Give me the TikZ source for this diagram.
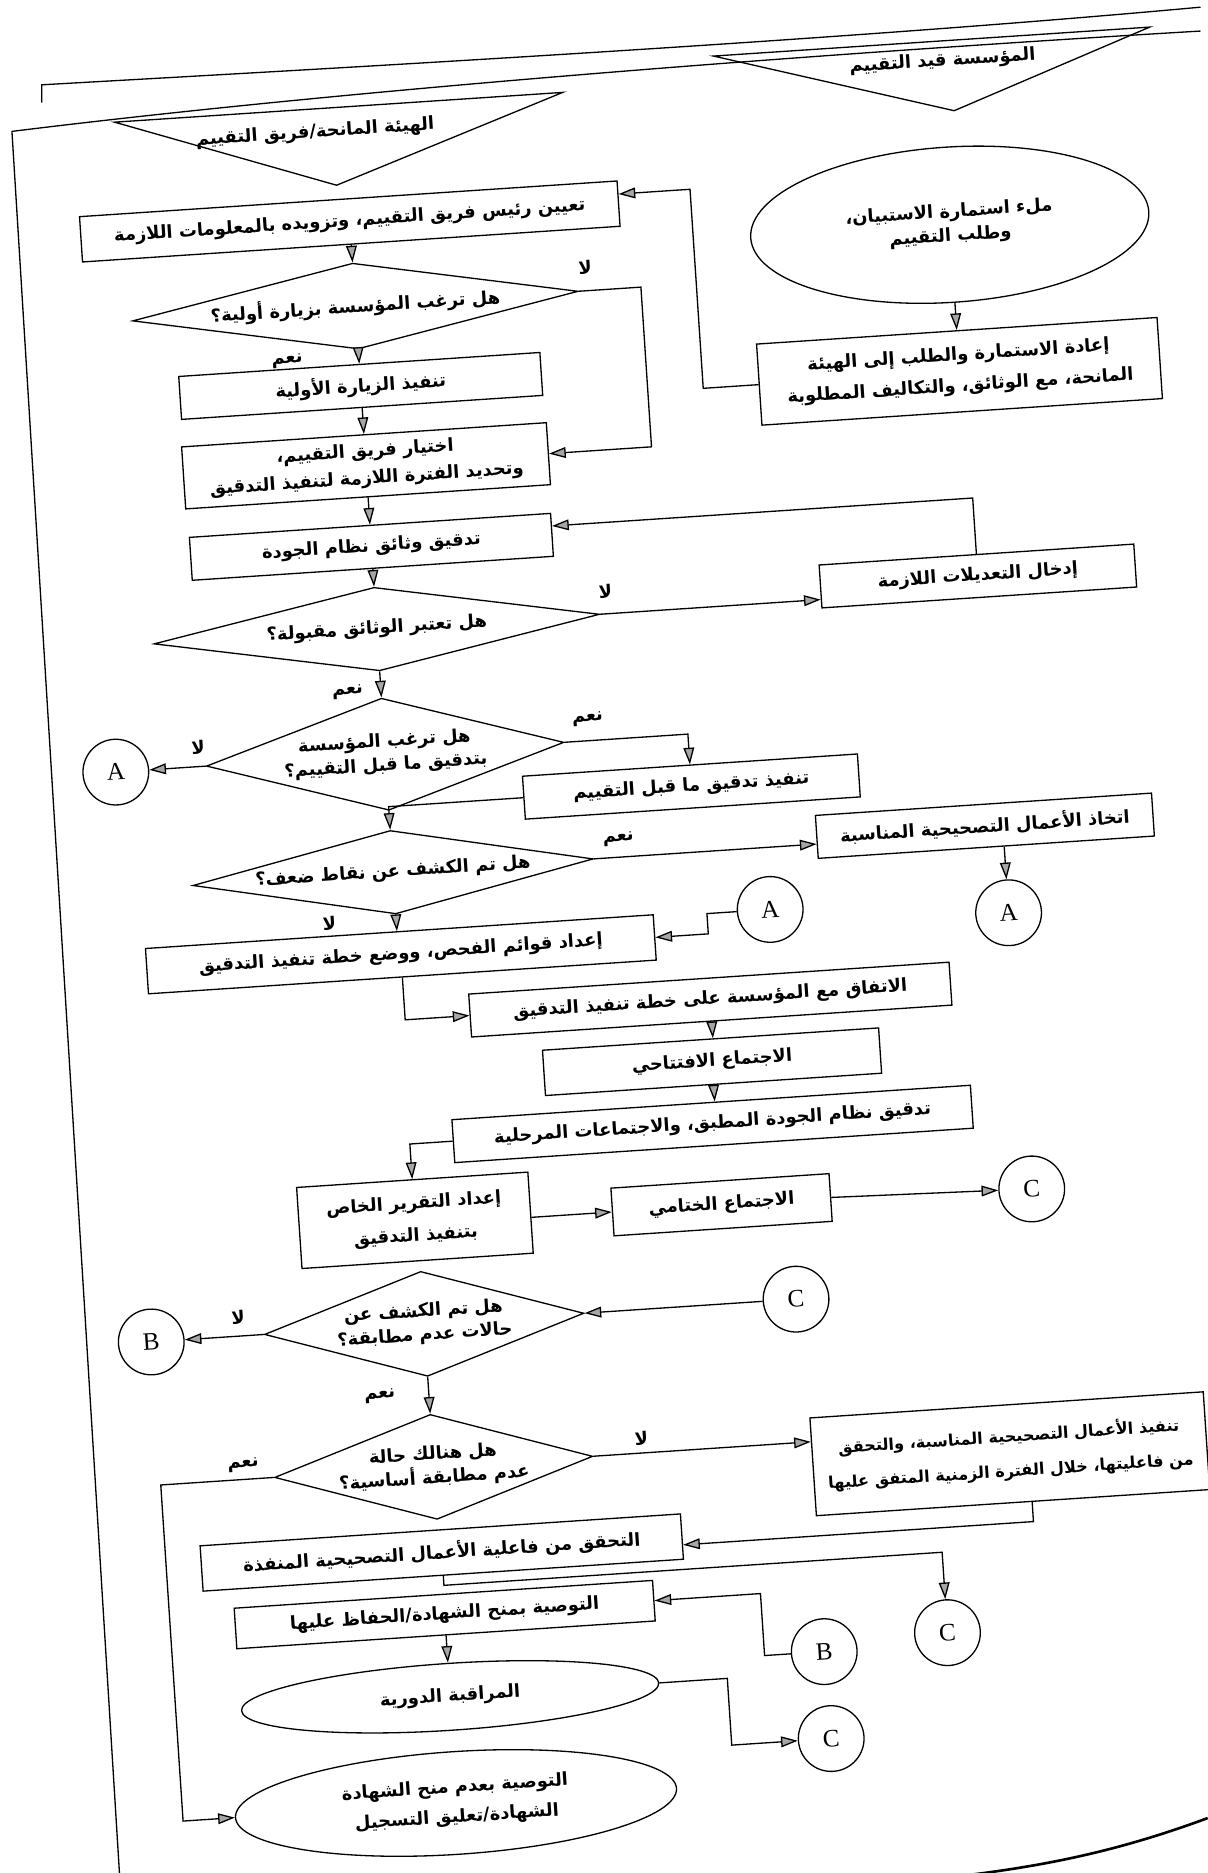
\documentclass[tikz,border=0pt]{standalone}
\usepackage{fontspec}
\usetikzlibrary{shapes.geometric,arrows.meta,calc}
\TeXXeTstate=1
\newfontfamily\arfont[Script=Arabic]{DejaVu Sans}
\newfontfamily\latfont{Liberation Serif}
\newcommand\artx[1]{\beginR #1\endR}
\tikzset{
  every node/.style={font={\arfont\bfseries\fontsize{15}{20}\selectfont}},
  lsk/.style 2 args={font={\arfont\bfseries\fontsize{#1}{#2}\selectfont}},
  wh/.style 2 args={minimum width=#1, minimum height=#2},
  box/.style={draw, rectangle, align=center, inner sep=3pt},
  dia/.style={draw, diamond, align=center, inner sep=0pt},
  ell/.style={draw, ellipse, align=center, inner sep=0pt},
  conn/.style={draw, circle, minimum size=55pt, inner sep=0pt, font={\latfont\fontsize{21}{21}\selectfont}},
  arr/.style={-{Triangle[length=14pt,width=9pt,fill=gray!70]}},
  lab/.style={inner sep=1pt},
}
\begin{document}
\begin{tikzpicture}[x=1pt,y=-1pt,line width=1.1pt]
\useasboundingbox (0,0) rectangle (1011,1568);
% page frame (drawn in image coordinates)
\draw (35,86) -- (35,71) .. controls (300,56) and (700,34) .. (1005,6);
\draw (100,1568) -- (10,110) .. controls (300,74) and (700,44) .. (1005,26);
\draw[line width=2.2pt] (1011,1522) .. controls (930,1552) and (860,1566) .. (760,1575);
\begin{scope}[rotate around={3.8:(500,800)}, transform shape]
% headers
\draw (647,55) -- (1013,55) -- (845,114) -- cycle;
\node (hdrR) at (838,72) {\artx{المؤسسة قيد التقييم}};
\draw (143,77) -- (519,77) -- (325,142) -- cycle;
\node (hdrL) at (310,97) {\artx{الهيئة المانحة/فريق التقييم}};
% right column top
\node[ell, wh={334pt}{130pt}] (E1) at (835,209) {\artx{ملء استمارة الاستبيان،}\\\artx{وطلب التقييم}};
\node[box, wh={336pt}{68pt}, lsk={15}{26}] (R1) at (835,332) {\artx{إعادة الاستمارة والطلب إلى الهيئة}\\\artx{المانحة، مع الوثائق، والتكاليف المطلوبة}};
% main column
\node[box, wh={451pt}{38pt}] (B1) at (334,173) {\artx{تعيين رئيس فريق التقييم، وتزويده بالمعلومات اللازمة}};
\node[dia, aspect=5.2, wh={374pt}{72pt}] (D1) at (334,244) {\artx{هل ترغب المؤسسة بزيارة أولية؟}};
\node[box, wh={303pt}{36pt}] (B2) at (334,311) {\artx{تنفيذ الزيارة الأولية}};
\node[box, wh={306pt}{52pt}, lsk={15}{23}] (B3) at (334,378) {\artx{اختيار فريق التقييم،}\\\artx{وتحديد الفترة اللازمة لتنفيذ التدقيق}};
\node[box, wh={303pt}{36pt}] (B4) at (334,446) {\artx{تدقيق وثائق نظام الجودة}};
\node[box, wh={264pt}{36pt}] (R2) at (839,504) {\artx{إدخال التعديلات اللازمة}};
\node[dia, aspect=5.3, wh={374pt}{70pt}] (D2) at (334,515) {\artx{هل تعتبر الوثائق مقبولة؟}};
\node[dia, aspect=3.2, wh={300pt}{94pt}] (D3) at (334,620) {\artx{هل ترغب المؤسسة}\\\artx{بتدقيق ما قبل التقييم؟}};
\node[conn] (A1) at (108,620) {A};
\node[box, wh={281pt}{36pt}] (B5) at (588,664) {\artx{تنفيذ تدقيق ما قبل التقييم}};
\node[dia, aspect=4.8, wh={336pt}{70pt}] (D4) at (334,719) {\artx{هل تم الكشف عن نقاط ضعف؟}};
\node[box, wh={282pt}{36pt}] (R3) at (831,713) {\artx{اتخاذ الأعمال التصحيحية المناسبة}};
\node[conn] (A2) at (846,787) {A};
\node[conn] (A3) at (647,771) {A};
\node[box, wh={426pt}{38pt}] (B6) at (336,788) {\artx{إعداد قوائم الفحص، ووضع خطة تنفيذ التدقيق}};
\node[box, wh={403pt}{36pt}] (B7) at (592,843) {\artx{الاتفاق مع المؤسسة على خطة تنفيذ التدقيق}};
\node[box, wh={282pt}{38pt}] (B8) at (590,895) {\artx{الاجتماع الافتتاحي}};
\node[box, wh={435pt}{36pt}] (B9) at (587,947) {\artx{تدقيق نظام الجودة المطبق، والاجتماعات المرحلية}};
\node[box, wh={194pt}{68pt}, lsk={15}{27}] (B10) at (333,1011) {\artx{إعداد التقرير الخاص}\\\artx{بتنفيذ التدقيق}};
\node[box, wh={183pt}{40pt}] (B11) at (590,1015) {\artx{الاجتماع الختامي}};
\node[conn] (C1) at (850,1019) {C};
\node[dia, aspect=3.05, wh={268pt}{88pt}] (D5) at (335,1098) {\artx{هل تم الكشف عن}\\\artx{حالات عدم مطابقة؟}};
\node[conn] (Bc1) at (106,1098) {B};
\node[conn] (C2) at (647,1098) {C};
\node[dia, aspect=3.05, wh={267pt}{88pt}] (D6) at (335,1218) {\artx{هل هنالك حالة}\\\artx{عدم مطابقة أساسية؟}};
\node[box, wh={330pt}{82pt}, lsk={13.5}{29}] (R4) at (817,1239) {\artx{تنفيذ الأعمال التصحيحية المناسبة، والتحقق}\\\artx{من فاعليتها، خلال الفترة الزمنية المتفق عليها}};
\node[box, wh={403pt}{38pt}] (B12) at (337,1290) {\artx{التحقق من فاعلية الأعمال التصحيحية المنفذة}};
\node[box, wh={351pt}{34pt}] (B13) at (336,1342) {\artx{التوصية بمنح الشهادة/الحفاظ عليها}};
\node[conn] (C3) at (755,1385) {C};
\node[conn] (Bc2) at (651,1394) {B};
\node[ell, wh={350pt}{56pt}] (E2) at (336,1411) {\artx{المراقبة الدورية}};
\node[conn] (C4) at (652,1467) {C};
\node[ell, wh={370pt}{86pt}, lsk={15}{25}] (E3) at (335,1500) {\artx{التوصية بعدم منح الشهادة}\\\artx{الشهادة/تعليق التسجيل}};
% labels
\node[lab] (l1) at (528,224) {\artx{لا}};
\node[lab] (l2) at (274,286) {\artx{نعم}};
\node[lab] (l3) at (527,496) {\artx{لا}};
\node[lab] (l4) at (306,566) {\artx{نعم}};
\node[lab] (l5) at (178,604) {\artx{لا}};
\node[lab] (l6) at (505,602) {\artx{نعم}};
\node[lab] (l7) at (524,704) {\artx{نعم}};
\node[lab] (l8) at (278,758) {\artx{لا}};
\node[lab] (l9) at (180,1082) {\artx{لا}};
\node[lab] (l10) at (294,1156) {\artx{نعم}};
\node[lab] (l11) at (510,1206) {\artx{لا}};
\node[lab] (l12) at (176,1206) {\artx{نعم}};
% helper coordinates
\coordinate (k1) at (620,165);
\coordinate (k2) at (106,1218);
% connectors
\draw[arr] (E1.south) -- (E1.south |- R1.north);
\draw[arr] (R1.west) -| (k1) -- (k1 -| B1.east);
\draw[arr] (B1.south) -- (D1.north);
\draw[arr] (D1.south) -- (B2.north);
\draw[arr] (D1.east) -- ++(52,0) |- (B3.east);
\draw[arr] (B2.south) -- (B3.north);
\draw[arr] (B3.south) -- (B4.north);
\draw[arr] (R2.north) |- ($(B4.north east)!0.3!(B4.south east)$);
\draw[arr] (B4.south) -- (D2.north);
\draw[arr] (D2.east) -- (D2.east -| R2.west);
\draw[arr] (D2.south) -- (D3.north);
\draw[arr] (D3.west) -- (A1);
\draw[arr] (D3.east) -| (B5.north);
\draw[arr] (B5.west) -| (D4.north);
\draw[arr] (D4.east) -- (D4.east -| R3.west);
\draw[arr] (A2.north |- R3.south) -- (A2.north);
\draw[arr] (D4.south) -- (D4.south |- B6.north);
\draw[arr] (A3.west) -- ++(-25,0) |- (B6.east);
\draw[arr] (B6.south) |- (B7.west);
\draw[arr] (B7.south) -- (B7.south |- B8.north);
\draw[arr] (B8.south) -- (B8.south |- B9.north);
\draw[arr] (B9.west) -| (B10.north);
\draw[arr] (B11.west -| B10.east) -- (B11.west);
\draw[arr] (B11.east) -- (C1);
\draw[arr] (C2) -- (D5.east);
\draw[arr] (D5.west) -- (Bc1);
\draw[arr] (D5.south) -- (D6.north);
\draw[arr] (D6.east) -- (D6.east -| R4.west);
\draw[arr] (D6.west) -- (k2) |- (E3.west);
\draw[arr] ($(R4.south)+(16,0)$) |- ($(B12.east)+(0,7)$);
\draw[arr] (B12.south) -- ++(0,8) -| (C3.north);
\draw[arr] (Bc2.west) -- ++(-22,0) |- (B13.east);
\draw[arr] (B13.south) -- (E2.north);
\draw[arr] (E2.east) -- ++(57,0) |- (C4.west);
\end{scope}
\end{tikzpicture}
\end{document}
